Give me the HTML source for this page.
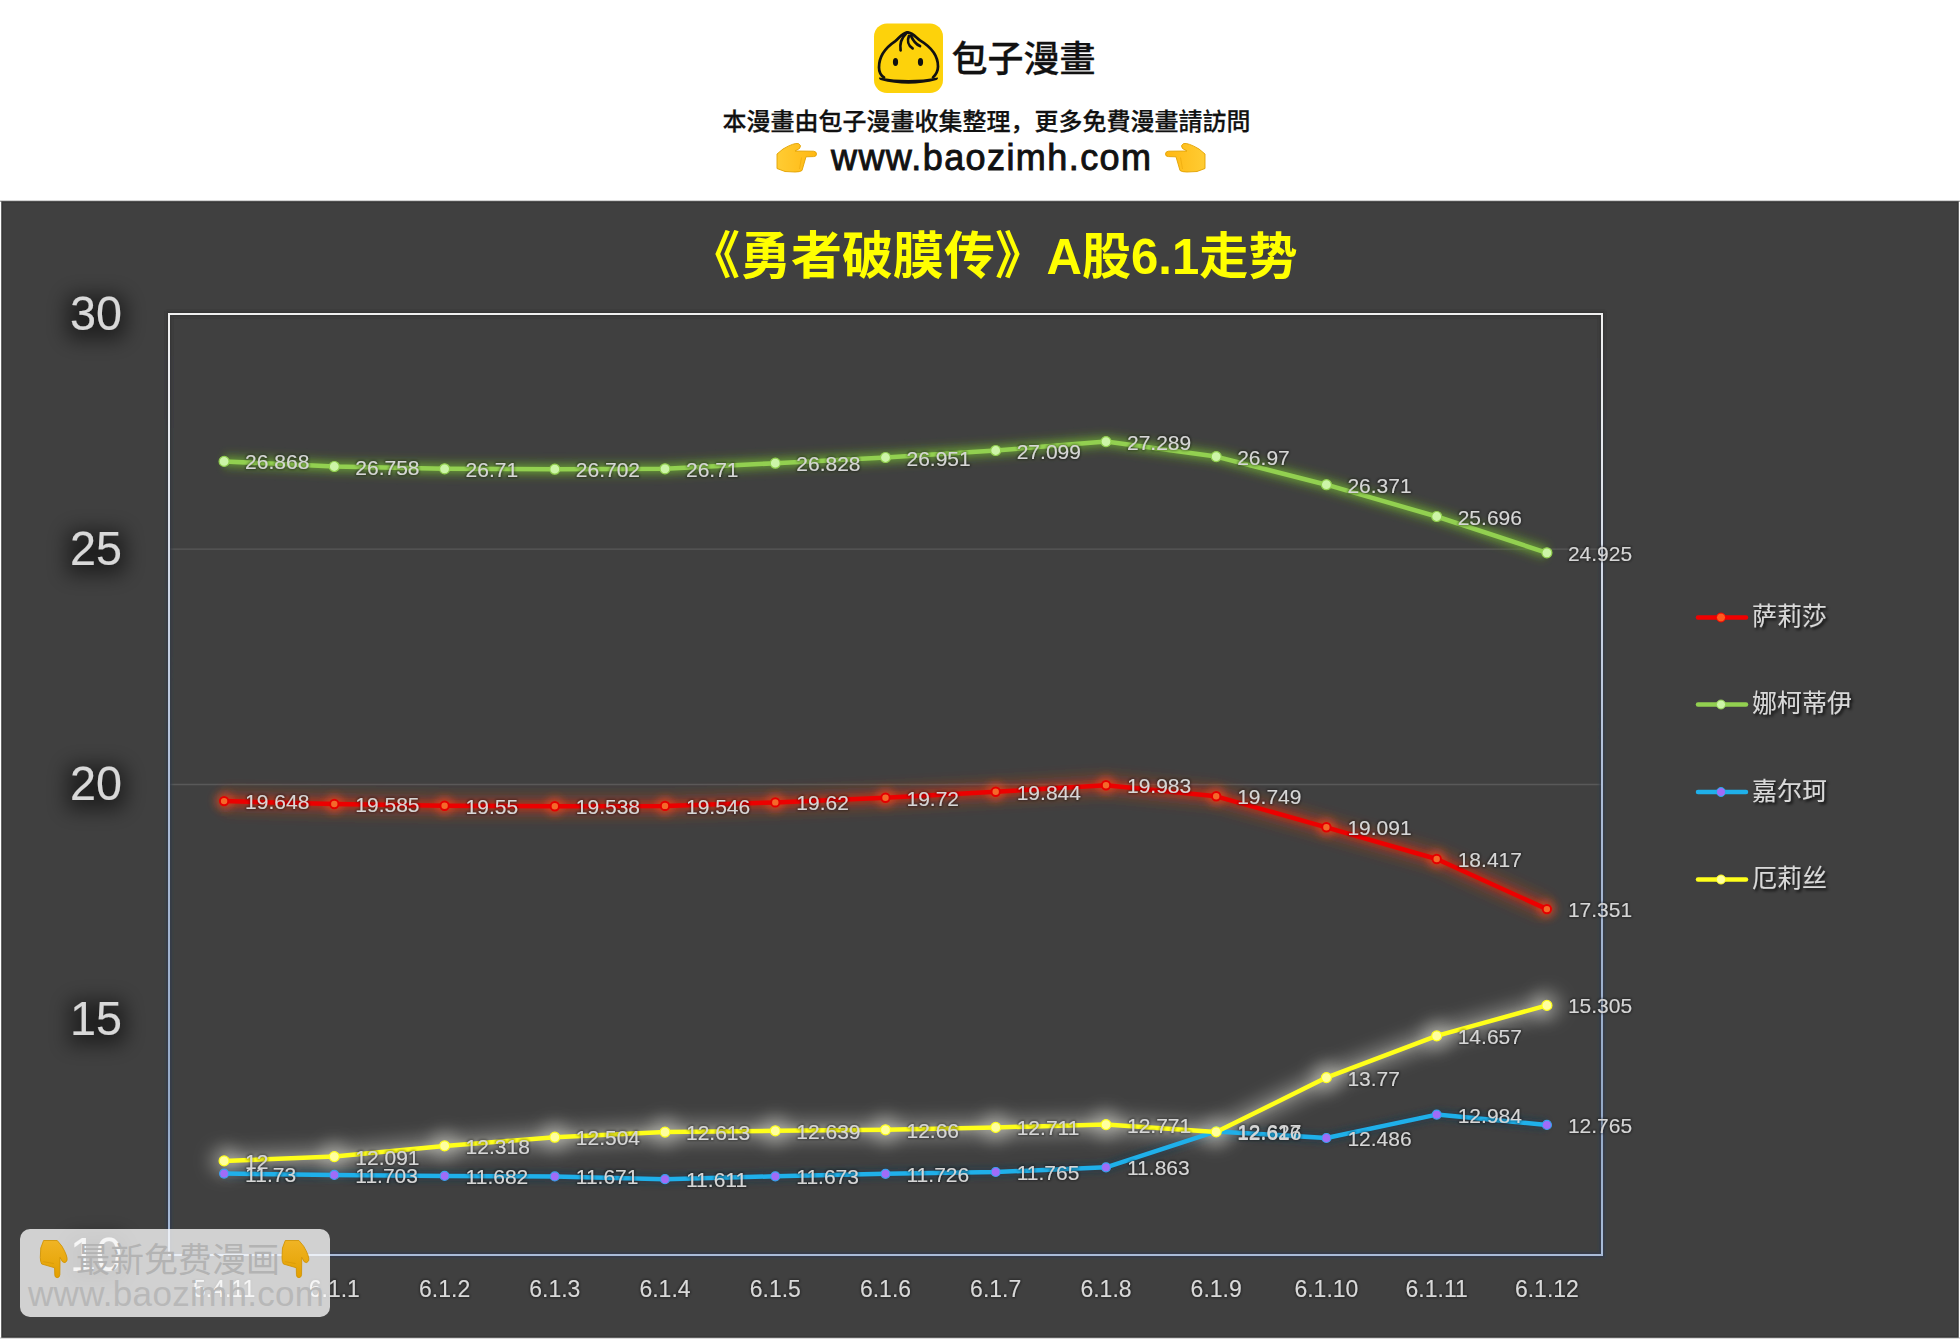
<!DOCTYPE html>
<html><head><meta charset="utf-8"><title>chart</title>
<style>
html,body{margin:0;padding:0;background:#fff;}
body{width:1960px;height:1339px;position:relative;overflow:hidden;}
.bot{position:absolute;left:0;top:1337px;width:1960px;height:2px;background:#dcdcdc;}
</style></head><body>
<div class="bot"></div>
<svg width="1960" height="202" viewBox="0 0 1960 202" style="position:absolute;left:0;top:0">
<rect x="874" y="23.4" width="69" height="69.6" rx="13" fill="#fdd20b"/>
<g transform="translate(874,23.4)" fill="none" stroke="#111" stroke-width="2.7" stroke-linecap="round">
<path d="M33.5,9 C28,9.5 25,15 21,18 C12,24 5,33 5,44 C5,49 7,52 10,54"/>
<path d="M33.5,9 C39,9.5 42,14 46,17 C56,23 64,32 64,43 C64,48 62,51 59,54"/>
<path d="M32.3,9.8 C28,14 25.5,20 26.6,27"/>
<path d="M35,12.5 C33,17 34,22 38.6,25"/>
<path d="M37,12.5 C39,17 42,21 46,22.7"/>
</g>
<g transform="translate(874,23.4)" fill="#111">
<path d="M5,54.2 Q34.5,59.2 64,54.2 Q64.3,55.8 62.5,56.6 Q34.5,64.2 6.5,56.6 Q4.7,55.8 5,54.2 Z"/>
<ellipse cx="21.5" cy="38.6" rx="2.6" ry="3.9"/>
<ellipse cx="46.5" cy="38.6" rx="2.6" ry="3.9"/>
</g>
<defs><linearGradient id="hg" x1="0" y1="0" x2="1" y2="0"><stop offset="0" stop-color="#ffcc33"/><stop offset="1" stop-color="#ffb812"/></linearGradient></defs>
<path d="M777,154 L783,149 Q794,142.5 798.5,143.6 Q802,145.5 799.5,148.5 L795,151 L813.5,151.2 Q816.5,151.5 816.5,154 Q816.5,156.6 813.5,156.6 L806,156.8 L802,170.5 Q800,172 795,172 L785,171.5 L777,168.5 Z" fill="url(#hg)" stroke="#e2a200" stroke-width="0.9" stroke-linejoin="round"/><path d="M801.5,157.5 L799.5,169" fill="none" stroke="#e09a00" stroke-width="0.7" stroke-opacity="0.6"/>
<g transform="translate(1982,0) scale(-1,1)"><path d="M777,154 L783,149 Q794,142.5 798.5,143.6 Q802,145.5 799.5,148.5 L795,151 L813.5,151.2 Q816.5,151.5 816.5,154 Q816.5,156.6 813.5,156.6 L806,156.8 L802,170.5 Q800,172 795,172 L785,171.5 L777,168.5 Z" fill="url(#hg)" stroke="#e2a200" stroke-width="0.9" stroke-linejoin="round"/><path d="M801.5,157.5 L799.5,169" fill="none" stroke="#e09a00" stroke-width="0.7" stroke-opacity="0.6"/></g>
<text x="951.5" y="72" font-family="'Liberation Sans','Noto Sans CJK TC',sans-serif" font-size="36" font-weight="500" fill="#111" stroke="#111" stroke-width="0.3">包子漫畫</text>
<text x="986.5" y="130" text-anchor="middle" font-family="'Liberation Sans','Noto Sans CJK SC',sans-serif" font-size="24" font-weight="500" fill="#111" stroke="#111" stroke-width="0.25">本漫畫由包子漫畫收集整理，更多免費漫畫請訪問</text>
<text x="831" y="169.5" font-family="'Liberation Sans',sans-serif" font-size="36" fill="#111" stroke="#111" stroke-width="0.9" textLength="320" lengthAdjust="spacing">www.baozimh.com</text>
</svg>
<svg width="1960" height="1339" viewBox="0 0 1960 1339" style="position:absolute;left:0;top:0">
<defs>
<filter id="gG" filterUnits="userSpaceOnUse" x="0" y="0" width="1960" height="1339"><feGaussianBlur stdDeviation="4"/></filter>
<filter id="gR" filterUnits="userSpaceOnUse" x="0" y="0" width="1960" height="1339"><feGaussianBlur stdDeviation="4"/></filter>
<filter id="gB" filterUnits="userSpaceOnUse" x="0" y="0" width="1960" height="1339"><feGaussianBlur stdDeviation="3"/></filter>
<filter id="gY" filterUnits="userSpaceOnUse" x="0" y="0" width="1960" height="1339"><feGaussianBlur stdDeviation="6"/></filter>
<filter id="gY2" filterUnits="userSpaceOnUse" x="0" y="0" width="1960" height="1339"><feGaussianBlur stdDeviation="7"/></filter>
<filter id="gY3" filterUnits="userSpaceOnUse" x="0" y="0" width="1960" height="1339"><feGaussianBlur stdDeviation="8"/></filter>
<filter id="axglow" filterUnits="userSpaceOnUse" x="0" y="200" width="200" height="1139">
  <feMorphology in="SourceAlpha" operator="dilate" radius="6" result="d0"/>
  <feOffset in="d0" dx="0" dy="4" result="d"/>
  <feGaussianBlur in="d" stdDeviation="10" result="b"/>
  <feFlood flood-color="#000" flood-opacity="0.5"/>
  <feComposite in2="b" operator="in" result="s"/>
  <feMerge><feMergeNode in="s"/><feMergeNode in="SourceGraphic"/></feMerge>
</filter>
<filter id="lblsh" x="-20%" y="-50%" width="140%" height="200%">
  <feMorphology in="SourceAlpha" operator="dilate" radius="1" result="d"/>
  <feGaussianBlur in="d" stdDeviation="1.2" result="b"/>
  <feFlood flood-color="#000" flood-opacity="0.35"/>
  <feComposite in2="b" operator="in" result="s"/>
  <feMerge><feMergeNode in="s"/><feMergeNode in="SourceGraphic"/></feMerge>
</filter>
<filter id="legsh" x="-20%" y="-50%" width="140%" height="200%">
  <feGaussianBlur in="SourceAlpha" stdDeviation="1.5" result="b"/>
  <feOffset in="b" dx="2" dy="2" result="o"/>
  <feFlood flood-color="#000" flood-opacity="0.8"/>
  <feComposite in2="o" operator="in" result="s"/>
  <feMerge><feMergeNode in="s"/><feMergeNode in="SourceGraphic"/></feMerge>
</filter>
<linearGradient id="bord" x1="0" y1="0" x2="0" y2="1">
  <stop offset="0" stop-color="#f0f0f0"/><stop offset="0.15" stop-color="#e4e8ee"/><stop offset="0.5" stop-color="#adbdd7"/><stop offset="0.85" stop-color="#94a9c6"/><stop offset="1" stop-color="#a9bcd8"/>
</linearGradient>
<linearGradient id="bordh" x1="0" y1="0" x2="0" y2="1">
  <stop offset="0" stop-color="#333333"/><stop offset="0.3" stop-color="#323a46"/><stop offset="1" stop-color="#2c3b50"/>
</linearGradient>
<filter id="bh" filterUnits="userSpaceOnUse" x="0" y="0" width="1960" height="1339"><feGaussianBlur stdDeviation="1.2"/></filter>
<linearGradient id="topsh" x1="0" y1="0" x2="0" y2="1">
  <stop offset="0" stop-color="#ffffff"/><stop offset="1" stop-color="#8a8a8a"/>
</linearGradient>
</defs>

<rect x="0" y="199.5" width="1960" height="2.5" fill="url(#topsh)"/>
<rect x="2" y="202" width="1956" height="1135" fill="#404040" stroke="#363636" stroke-width="1.5"/>
<text x="689" y="274" font-family="'Liberation Sans','Noto Sans CJK SC',sans-serif" font-weight="bold" font-size="51" fill="#ffff00">《勇者破膜传》</text>
<text x="1046.5" y="274" font-family="'Liberation Sans','Noto Sans CJK SC',sans-serif" font-weight="bold" font-size="50" fill="#ffff00" textLength="251" lengthAdjust="spacingAndGlyphs">A股6.1走势</text>
<line x1="169" x2="1602" y1="549.2" y2="549.2" stroke="#595959" stroke-width="1.3"/>
<line x1="169" x2="1602" y1="784.5" y2="784.5" stroke="#595959" stroke-width="1.3"/>
<g font-family="'Liberation Sans',sans-serif" font-size="49" fill="#d9d9d9" filter="url(#axglow)">
<text x="70" y="329.5" textLength="52" lengthAdjust="spacingAndGlyphs">30</text>
<text x="70" y="564.8" textLength="52" lengthAdjust="spacingAndGlyphs">25</text>
<text x="70" y="800.0" textLength="52" lengthAdjust="spacingAndGlyphs">20</text>
<text x="70" y="1035.2" textLength="52" lengthAdjust="spacingAndGlyphs">15</text>
<text x="70" y="1270.5" textLength="52" lengthAdjust="spacingAndGlyphs">10</text>
</g>
<rect x="169" y="314" width="1433" height="941" fill="none" stroke="url(#bordh)" stroke-width="6" stroke-opacity="0.7" filter="url(#bh)"/>
<rect x="169" y="314" width="1433" height="941" fill="none" stroke="url(#bord)" stroke-width="2"/>
<g font-family="'Liberation Sans',sans-serif" font-size="23" fill="#d9d9d9" text-anchor="middle" filter="url(#lblsh)">
<text x="224.1" y="1296.5">5.4.11</text>
<text x="334.3" y="1296.5">6.1.1</text>
<text x="444.6" y="1296.5">6.1.2</text>
<text x="554.8" y="1296.5">6.1.3</text>
<text x="665.0" y="1296.5">6.1.4</text>
<text x="775.3" y="1296.5">6.1.5</text>
<text x="885.5" y="1296.5">6.1.6</text>
<text x="995.7" y="1296.5">6.1.7</text>
<text x="1106.0" y="1296.5">6.1.8</text>
<text x="1216.2" y="1296.5">6.1.9</text>
<text x="1326.4" y="1296.5">6.1.10</text>
<text x="1436.7" y="1296.5">6.1.11</text>
<text x="1546.9" y="1296.5">6.1.12</text>
</g>
<polyline points="224.1,461.4 334.3,466.5 444.6,468.8 554.8,469.2 665.0,468.8 775.3,463.2 885.5,457.5 995.7,450.5 1106.0,441.6 1216.2,456.6 1326.4,484.7 1436.7,516.5 1546.9,552.8" fill="none" stroke="#5f9a25" stroke-width="16" stroke-linejoin="round" stroke-opacity="0.4" filter="url(#gG)"/>
<polyline points="224.1,461.4 334.3,466.5 444.6,468.8 554.8,469.2 665.0,468.8 775.3,463.2 885.5,457.5 995.7,450.5 1106.0,441.6 1216.2,456.6 1326.4,484.7 1436.7,516.5 1546.9,552.8" fill="none" stroke="#78b838" stroke-width="8" stroke-linejoin="round" stroke-opacity="0.5" filter="url(#gB)"/>
<polyline points="224.1,801.1 334.3,804.0 444.6,805.7 554.8,806.2 665.0,805.9 775.3,802.4 885.5,797.7 995.7,791.8 1106.0,785.3 1216.2,796.3 1326.4,827.3 1436.7,859.0 1546.9,909.1" fill="none" stroke="#b84018" stroke-width="22" stroke-linejoin="round" stroke-opacity="0.38" filter="url(#gY)"/>
<polyline points="224.1,801.1 334.3,804.0 444.6,805.7 554.8,806.2 665.0,805.9 775.3,802.4 885.5,797.7 995.7,791.8 1106.0,785.3 1216.2,796.3 1326.4,827.3 1436.7,859.0 1546.9,909.1" fill="none" stroke="#ff2000" stroke-width="8" stroke-linejoin="round" stroke-opacity="0.45" filter="url(#gB)"/>
<circle cx="224.1" cy="801.1" r="9" fill="#ff5020" fill-opacity="0.55" filter="url(#gR)"/>
<circle cx="334.3" cy="804.0" r="9" fill="#ff5020" fill-opacity="0.55" filter="url(#gR)"/>
<circle cx="444.6" cy="805.7" r="9" fill="#ff5020" fill-opacity="0.55" filter="url(#gR)"/>
<circle cx="554.8" cy="806.2" r="9" fill="#ff5020" fill-opacity="0.55" filter="url(#gR)"/>
<circle cx="665.0" cy="805.9" r="9" fill="#ff5020" fill-opacity="0.55" filter="url(#gR)"/>
<circle cx="775.3" cy="802.4" r="9" fill="#ff5020" fill-opacity="0.55" filter="url(#gR)"/>
<circle cx="885.5" cy="797.7" r="9" fill="#ff5020" fill-opacity="0.55" filter="url(#gR)"/>
<circle cx="995.7" cy="791.8" r="9" fill="#ff5020" fill-opacity="0.55" filter="url(#gR)"/>
<circle cx="1106.0" cy="785.3" r="9" fill="#ff5020" fill-opacity="0.55" filter="url(#gR)"/>
<circle cx="1216.2" cy="796.3" r="9" fill="#ff5020" fill-opacity="0.55" filter="url(#gR)"/>
<circle cx="1326.4" cy="827.3" r="9" fill="#ff5020" fill-opacity="0.55" filter="url(#gR)"/>
<circle cx="1436.7" cy="859.0" r="9" fill="#ff5020" fill-opacity="0.55" filter="url(#gR)"/>
<circle cx="1546.9" cy="909.1" r="9" fill="#ff5020" fill-opacity="0.55" filter="url(#gR)"/>
<polyline points="224.1,1173.6 334.3,1174.9 444.6,1175.9 554.8,1176.4 665.0,1179.2 775.3,1176.3 885.5,1173.8 995.7,1172.0 1106.0,1167.3 1216.2,1131.4 1326.4,1138.0 1436.7,1114.6 1546.9,1124.9" fill="none" stroke="#1a3550" stroke-width="10" stroke-linejoin="round" stroke-opacity="0.5" filter="url(#gB)"/>
<polyline points="224.1,1160.9 334.3,1156.6 444.6,1145.9 554.8,1137.2 665.0,1132.1 775.3,1130.8 885.5,1129.8 995.7,1127.4 1106.0,1124.6 1216.2,1131.9 1326.4,1077.6 1436.7,1035.9 1546.9,1005.4" fill="none" stroke="#dcdcd4" stroke-width="26" stroke-linejoin="round" stroke-opacity="0.28" filter="url(#gY2)"/>
<polyline points="224.1,1160.9 334.3,1156.6 444.6,1145.9 554.8,1137.2 665.0,1132.1 775.3,1130.8 885.5,1129.8 995.7,1127.4 1106.0,1124.6 1216.2,1131.9 1326.4,1077.6 1436.7,1035.9 1546.9,1005.4" fill="none" stroke="#ffffe0" stroke-width="9" stroke-linejoin="round" stroke-opacity="0.2" filter="url(#gB)"/>
<circle cx="224.1" cy="1160.9" r="15" fill="#e8e8e0" fill-opacity="0.32" filter="url(#gY3)"/>
<circle cx="334.3" cy="1156.6" r="15" fill="#e8e8e0" fill-opacity="0.32" filter="url(#gY3)"/>
<circle cx="444.6" cy="1145.9" r="15" fill="#e8e8e0" fill-opacity="0.32" filter="url(#gY3)"/>
<circle cx="554.8" cy="1137.2" r="15" fill="#e8e8e0" fill-opacity="0.32" filter="url(#gY3)"/>
<circle cx="665.0" cy="1132.1" r="15" fill="#e8e8e0" fill-opacity="0.32" filter="url(#gY3)"/>
<circle cx="775.3" cy="1130.8" r="15" fill="#e8e8e0" fill-opacity="0.32" filter="url(#gY3)"/>
<circle cx="885.5" cy="1129.8" r="15" fill="#e8e8e0" fill-opacity="0.32" filter="url(#gY3)"/>
<circle cx="995.7" cy="1127.4" r="15" fill="#e8e8e0" fill-opacity="0.32" filter="url(#gY3)"/>
<circle cx="1106.0" cy="1124.6" r="15" fill="#e8e8e0" fill-opacity="0.32" filter="url(#gY3)"/>
<circle cx="1216.2" cy="1131.9" r="15" fill="#e8e8e0" fill-opacity="0.32" filter="url(#gY3)"/>
<circle cx="1326.4" cy="1077.6" r="15" fill="#e8e8e0" fill-opacity="0.32" filter="url(#gY3)"/>
<circle cx="1436.7" cy="1035.9" r="15" fill="#e8e8e0" fill-opacity="0.32" filter="url(#gY3)"/>
<circle cx="1546.9" cy="1005.4" r="15" fill="#e8e8e0" fill-opacity="0.32" filter="url(#gY3)"/>
<polyline points="224.1,461.4 334.3,466.5 444.6,468.8 554.8,469.2 665.0,468.8 775.3,463.2 885.5,457.5 995.7,450.5 1106.0,441.6 1216.2,456.6 1326.4,484.7 1436.7,516.5 1546.9,552.8" fill="none" stroke="#92d050" stroke-width="4.5" stroke-linejoin="round"/>
<circle cx="224.1" cy="461.4" r="5" fill="#cdf5a8" stroke="#92d050" stroke-width="1.2"/>
<circle cx="334.3" cy="466.5" r="5" fill="#cdf5a8" stroke="#92d050" stroke-width="1.2"/>
<circle cx="444.6" cy="468.8" r="5" fill="#cdf5a8" stroke="#92d050" stroke-width="1.2"/>
<circle cx="554.8" cy="469.2" r="5" fill="#cdf5a8" stroke="#92d050" stroke-width="1.2"/>
<circle cx="665.0" cy="468.8" r="5" fill="#cdf5a8" stroke="#92d050" stroke-width="1.2"/>
<circle cx="775.3" cy="463.2" r="5" fill="#cdf5a8" stroke="#92d050" stroke-width="1.2"/>
<circle cx="885.5" cy="457.5" r="5" fill="#cdf5a8" stroke="#92d050" stroke-width="1.2"/>
<circle cx="995.7" cy="450.5" r="5" fill="#cdf5a8" stroke="#92d050" stroke-width="1.2"/>
<circle cx="1106.0" cy="441.6" r="5" fill="#cdf5a8" stroke="#92d050" stroke-width="1.2"/>
<circle cx="1216.2" cy="456.6" r="5" fill="#cdf5a8" stroke="#92d050" stroke-width="1.2"/>
<circle cx="1326.4" cy="484.7" r="5" fill="#cdf5a8" stroke="#92d050" stroke-width="1.2"/>
<circle cx="1436.7" cy="516.5" r="5" fill="#cdf5a8" stroke="#92d050" stroke-width="1.2"/>
<circle cx="1546.9" cy="552.8" r="5" fill="#cdf5a8" stroke="#92d050" stroke-width="1.2"/>
<polyline points="224.1,801.1 334.3,804.0 444.6,805.7 554.8,806.2 665.0,805.9 775.3,802.4 885.5,797.7 995.7,791.8 1106.0,785.3 1216.2,796.3 1326.4,827.3 1436.7,859.0 1546.9,909.1" fill="none" stroke="#ec0000" stroke-width="4.5" stroke-linejoin="round"/>
<circle cx="224.1" cy="801.1" r="4.2" fill="#f4692a" stroke="#e40000" stroke-width="2"/>
<circle cx="334.3" cy="804.0" r="4.2" fill="#f4692a" stroke="#e40000" stroke-width="2"/>
<circle cx="444.6" cy="805.7" r="4.2" fill="#f4692a" stroke="#e40000" stroke-width="2"/>
<circle cx="554.8" cy="806.2" r="4.2" fill="#f4692a" stroke="#e40000" stroke-width="2"/>
<circle cx="665.0" cy="805.9" r="4.2" fill="#f4692a" stroke="#e40000" stroke-width="2"/>
<circle cx="775.3" cy="802.4" r="4.2" fill="#f4692a" stroke="#e40000" stroke-width="2"/>
<circle cx="885.5" cy="797.7" r="4.2" fill="#f4692a" stroke="#e40000" stroke-width="2"/>
<circle cx="995.7" cy="791.8" r="4.2" fill="#f4692a" stroke="#e40000" stroke-width="2"/>
<circle cx="1106.0" cy="785.3" r="4.2" fill="#f4692a" stroke="#e40000" stroke-width="2"/>
<circle cx="1216.2" cy="796.3" r="4.2" fill="#f4692a" stroke="#e40000" stroke-width="2"/>
<circle cx="1326.4" cy="827.3" r="4.2" fill="#f4692a" stroke="#e40000" stroke-width="2"/>
<circle cx="1436.7" cy="859.0" r="4.2" fill="#f4692a" stroke="#e40000" stroke-width="2"/>
<circle cx="1546.9" cy="909.1" r="4.2" fill="#f4692a" stroke="#e40000" stroke-width="2"/>
<polyline points="224.1,1173.6 334.3,1174.9 444.6,1175.9 554.8,1176.4 665.0,1179.2 775.3,1176.3 885.5,1173.8 995.7,1172.0 1106.0,1167.3 1216.2,1131.4 1326.4,1138.0 1436.7,1114.6 1546.9,1124.9" fill="none" stroke="#1fb0ea" stroke-width="4.5" stroke-linejoin="round"/>
<circle cx="224.1" cy="1173.6" r="4.5" fill="#a06cf8" stroke="#3aa0f0" stroke-width="1.2"/>
<circle cx="334.3" cy="1174.9" r="4.5" fill="#a06cf8" stroke="#3aa0f0" stroke-width="1.2"/>
<circle cx="444.6" cy="1175.9" r="4.5" fill="#a06cf8" stroke="#3aa0f0" stroke-width="1.2"/>
<circle cx="554.8" cy="1176.4" r="4.5" fill="#a06cf8" stroke="#3aa0f0" stroke-width="1.2"/>
<circle cx="665.0" cy="1179.2" r="4.5" fill="#a06cf8" stroke="#3aa0f0" stroke-width="1.2"/>
<circle cx="775.3" cy="1176.3" r="4.5" fill="#a06cf8" stroke="#3aa0f0" stroke-width="1.2"/>
<circle cx="885.5" cy="1173.8" r="4.5" fill="#a06cf8" stroke="#3aa0f0" stroke-width="1.2"/>
<circle cx="995.7" cy="1172.0" r="4.5" fill="#a06cf8" stroke="#3aa0f0" stroke-width="1.2"/>
<circle cx="1106.0" cy="1167.3" r="4.5" fill="#a06cf8" stroke="#3aa0f0" stroke-width="1.2"/>
<circle cx="1216.2" cy="1131.4" r="4.5" fill="#a06cf8" stroke="#3aa0f0" stroke-width="1.2"/>
<circle cx="1326.4" cy="1138.0" r="4.5" fill="#a06cf8" stroke="#3aa0f0" stroke-width="1.2"/>
<circle cx="1436.7" cy="1114.6" r="4.5" fill="#a06cf8" stroke="#3aa0f0" stroke-width="1.2"/>
<circle cx="1546.9" cy="1124.9" r="4.5" fill="#a06cf8" stroke="#3aa0f0" stroke-width="1.2"/>
<polyline points="224.1,1160.9 334.3,1156.6 444.6,1145.9 554.8,1137.2 665.0,1132.1 775.3,1130.8 885.5,1129.8 995.7,1127.4 1106.0,1124.6 1216.2,1131.9 1326.4,1077.6 1436.7,1035.9 1546.9,1005.4" fill="none" stroke="#ffff1a" stroke-width="4.5" stroke-linejoin="round"/>
<circle cx="224.1" cy="1160.9" r="5" fill="#ffffa0" stroke="#ffff1a" stroke-width="1.2"/>
<circle cx="334.3" cy="1156.6" r="5" fill="#ffffa0" stroke="#ffff1a" stroke-width="1.2"/>
<circle cx="444.6" cy="1145.9" r="5" fill="#ffffa0" stroke="#ffff1a" stroke-width="1.2"/>
<circle cx="554.8" cy="1137.2" r="5" fill="#ffffa0" stroke="#ffff1a" stroke-width="1.2"/>
<circle cx="665.0" cy="1132.1" r="5" fill="#ffffa0" stroke="#ffff1a" stroke-width="1.2"/>
<circle cx="775.3" cy="1130.8" r="5" fill="#ffffa0" stroke="#ffff1a" stroke-width="1.2"/>
<circle cx="885.5" cy="1129.8" r="5" fill="#ffffa0" stroke="#ffff1a" stroke-width="1.2"/>
<circle cx="995.7" cy="1127.4" r="5" fill="#ffffa0" stroke="#ffff1a" stroke-width="1.2"/>
<circle cx="1106.0" cy="1124.6" r="5" fill="#ffffa0" stroke="#ffff1a" stroke-width="1.2"/>
<circle cx="1216.2" cy="1131.9" r="5" fill="#ffffa0" stroke="#ffff1a" stroke-width="1.2"/>
<circle cx="1326.4" cy="1077.6" r="5" fill="#ffffa0" stroke="#ffff1a" stroke-width="1.2"/>
<circle cx="1436.7" cy="1035.9" r="5" fill="#ffffa0" stroke="#ffff1a" stroke-width="1.2"/>
<circle cx="1546.9" cy="1005.4" r="5" fill="#ffffa0" stroke="#ffff1a" stroke-width="1.2"/>
<g font-family="'Liberation Sans',sans-serif" font-size="21" fill="#d6d6d6" filter="url(#lblsh)">
<text x="245.1" y="469.4">26.868</text>
<text x="355.3" y="474.5">26.758</text>
<text x="465.6" y="476.8">26.71</text>
<text x="575.8" y="477.2">26.702</text>
<text x="686.0" y="476.8">26.71</text>
<text x="796.3" y="471.2">26.828</text>
<text x="906.5" y="465.5">26.951</text>
<text x="1016.7" y="458.5">27.099</text>
<text x="1127.0" y="449.6">27.289</text>
<text x="1237.2" y="464.6">26.97</text>
<text x="1347.4" y="492.7">26.371</text>
<text x="1457.7" y="524.5">25.696</text>
<text x="1567.9" y="560.8">24.925</text>
<text x="245.1" y="809.1">19.648</text>
<text x="355.3" y="812.0">19.585</text>
<text x="465.6" y="813.7">19.55</text>
<text x="575.8" y="814.2">19.538</text>
<text x="686.0" y="813.9">19.546</text>
<text x="796.3" y="810.4">19.62</text>
<text x="906.5" y="805.7">19.72</text>
<text x="1016.7" y="799.8">19.844</text>
<text x="1127.0" y="793.3">19.983</text>
<text x="1237.2" y="804.3">19.749</text>
<text x="1347.4" y="835.3">19.091</text>
<text x="1457.7" y="867.0">18.417</text>
<text x="1567.9" y="917.1">17.351</text>
<text x="245.1" y="1181.6">11.73</text>
<text x="355.3" y="1182.9">11.703</text>
<text x="465.6" y="1183.9">11.682</text>
<text x="575.8" y="1184.4">11.671</text>
<text x="686.0" y="1187.2">11.611</text>
<text x="796.3" y="1184.3">11.673</text>
<text x="906.5" y="1181.8">11.726</text>
<text x="1016.7" y="1180.0">11.765</text>
<text x="1127.0" y="1175.3">11.863</text>
<text x="1237.2" y="1139.4">12.627</text>
<text x="1347.4" y="1146.0">12.486</text>
<text x="1457.7" y="1122.6">12.984</text>
<text x="1567.9" y="1132.9">12.765</text>
<text x="245.1" y="1168.9">12</text>
<text x="355.3" y="1164.6">12.091</text>
<text x="465.6" y="1153.9">12.318</text>
<text x="575.8" y="1145.2">12.504</text>
<text x="686.0" y="1140.1">12.613</text>
<text x="796.3" y="1138.8">12.639</text>
<text x="906.5" y="1137.8">12.66</text>
<text x="1016.7" y="1135.4">12.711</text>
<text x="1127.0" y="1132.6">12.771</text>
<text x="1237.2" y="1139.9">12.616</text>
<text x="1347.4" y="1085.6">13.77</text>
<text x="1457.7" y="1043.9">14.657</text>
<text x="1567.9" y="1013.4">15.305</text>
</g>
<line x1="1698" x2="1746" y1="617.5" y2="617.5" stroke="#f00000" stroke-width="4.5" stroke-linecap="round"/>
<circle cx="1721" cy="617.5" r="4.5" fill="#ff5a1e" stroke="#f00000" stroke-width="1"/>
<text x="1752" y="625.0" font-family="'Liberation Sans','Noto Sans CJK SC',sans-serif" font-size="25" fill="#d9d9d9" filter="url(#legsh)">萨莉莎</text>
<line x1="1698" x2="1746" y1="704.5" y2="704.5" stroke="#92d050" stroke-width="4.5" stroke-linecap="round"/>
<circle cx="1721" cy="704.5" r="4.5" fill="#cdf5a8" stroke="#92d050" stroke-width="1"/>
<text x="1752" y="712.0" font-family="'Liberation Sans','Noto Sans CJK SC',sans-serif" font-size="25" fill="#d9d9d9" filter="url(#legsh)">娜柯蒂伊</text>
<line x1="1698" x2="1746" y1="792" y2="792" stroke="#1fb0ea" stroke-width="4.5" stroke-linecap="round"/>
<circle cx="1721" cy="792" r="4.5" fill="#a06cf8" stroke="#1fb0ea" stroke-width="1"/>
<text x="1752" y="799.5" font-family="'Liberation Sans','Noto Sans CJK SC',sans-serif" font-size="25" fill="#d9d9d9" filter="url(#legsh)">嘉尔珂</text>
<line x1="1698" x2="1746" y1="879.5" y2="879.5" stroke="#ffff1a" stroke-width="4.5" stroke-linecap="round"/>
<circle cx="1721" cy="879.5" r="4.5" fill="#ffffa0" stroke="#ffff1a" stroke-width="1"/>
<text x="1752" y="887.0" font-family="'Liberation Sans','Noto Sans CJK SC',sans-serif" font-size="25" fill="#d9d9d9" filter="url(#legsh)">厄莉丝</text>
</svg>
<svg width="1960" height="1339" viewBox="0 0 1960 1339" style="position:absolute;left:0;top:0">
<defs><linearGradient id="hg2" x1="0" y1="0" x2="1" y2="0"><stop offset="0" stop-color="#f0b424"/><stop offset="1" stop-color="#e3a000"/></linearGradient></defs>
<rect x="20" y="1229" width="310" height="88" rx="10" fill="#ffffff" fill-opacity="0.76"/>
<text x="76" y="1272" font-family="'Liberation Sans','Noto Sans CJK SC',sans-serif" font-size="34" fill="#b3b3b3">最新免费漫画</text>
<text x="28" y="1306" font-family="'Liberation Sans',sans-serif" font-size="35" fill="#b8b8b8" textLength="296">www.baozimh.com</text>
<g transform="translate(67.56,1240.5) scale(0.94) rotate(90) translate(-777,-143)"><path d="M777,154 L783,149 Q794,142.5 798.5,143.6 Q802,145.5 799.5,148.5 L795,151 L813.5,151.2 Q816.5,151.5 816.5,154 Q816.5,156.6 813.5,156.6 L806,156.8 L802,170.5 Q800,172 795,172 L785,171.5 L777,168.5 Z" fill="url(#hg2)" stroke="#cf9200" stroke-width="0.9" stroke-linejoin="round"/><path d="M801.5,157.5 L799.5,169" fill="none" stroke="#c88a00" stroke-width="0.7" stroke-opacity="0.6"/></g>
<g transform="translate(309.26,1240.5) scale(0.94) rotate(90) translate(-777,-143)"><path d="M777,154 L783,149 Q794,142.5 798.5,143.6 Q802,145.5 799.5,148.5 L795,151 L813.5,151.2 Q816.5,151.5 816.5,154 Q816.5,156.6 813.5,156.6 L806,156.8 L802,170.5 Q800,172 795,172 L785,171.5 L777,168.5 Z" fill="url(#hg2)" stroke="#cf9200" stroke-width="0.9" stroke-linejoin="round"/><path d="M801.5,157.5 L799.5,169" fill="none" stroke="#c88a00" stroke-width="0.7" stroke-opacity="0.6"/></g>
</svg>
</body></html>
